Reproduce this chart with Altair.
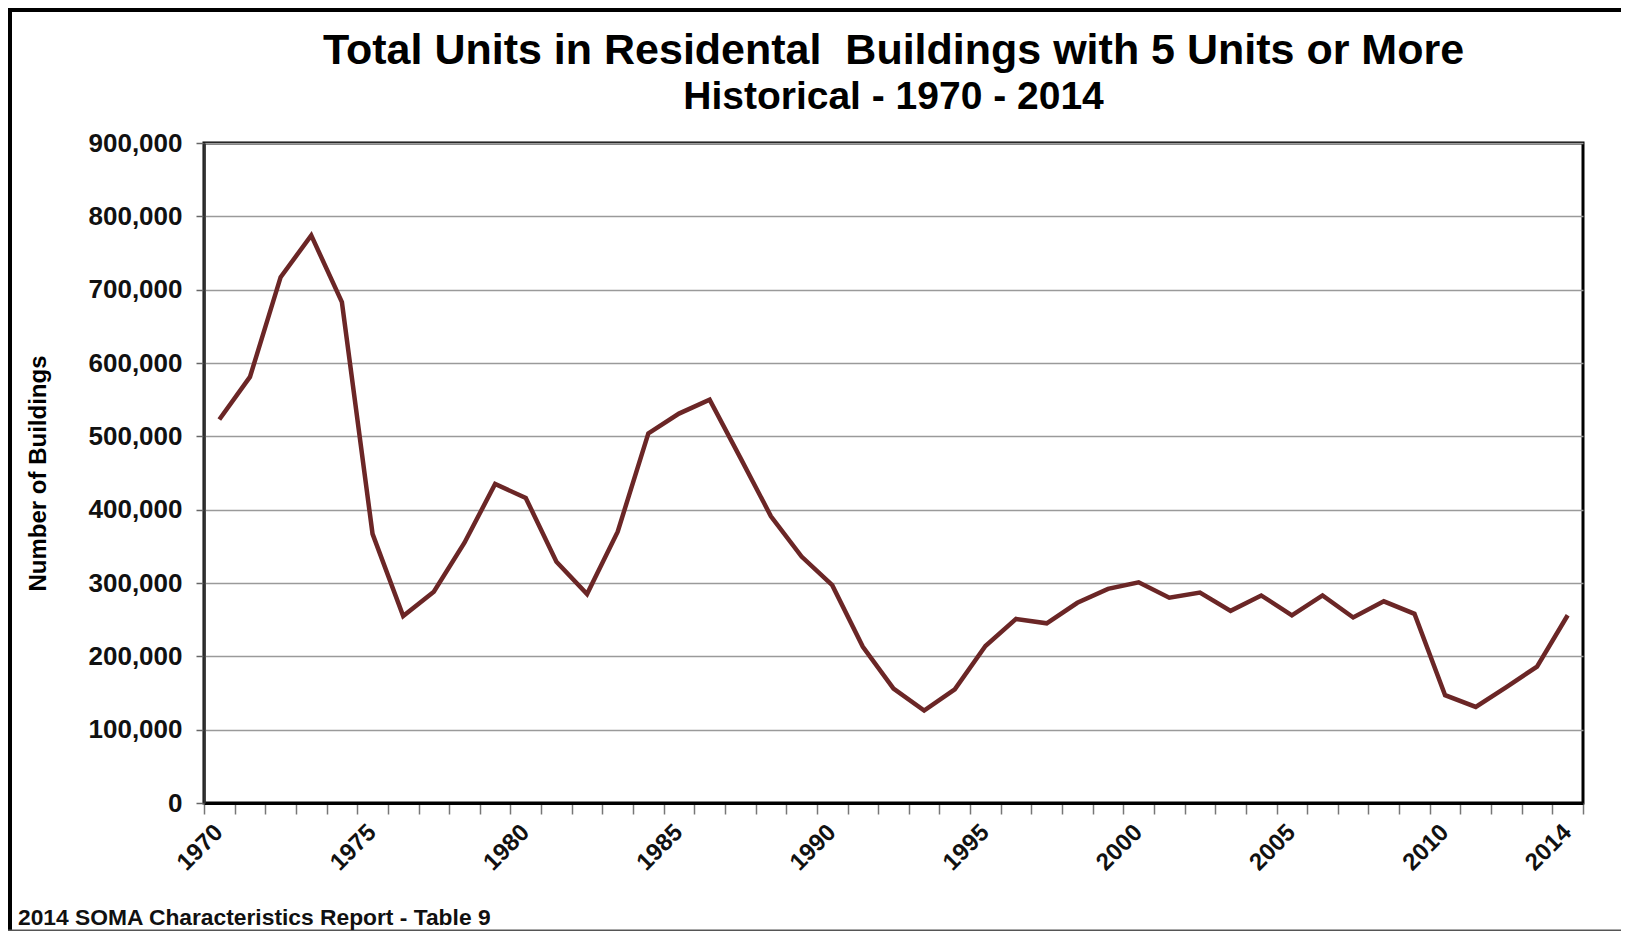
import altair as alt
import pandas as pd

YEARS = list(range(1970, 2015))
UNITS = [523000, 581000, 717000, 774000, 683000, 367000, 255000, 288000, 355000, 435000,
         416000, 329000, 285000, 370000, 504000, 531000, 550000, 471000, 391000, 336000,
         297000, 213000, 156000, 126000, 155000, 214000, 251000, 245000, 273000, 292000,
         301000, 280000, 287000, 262000, 283000, 256000, 283000, 253000, 275000, 258000,
         147000, 131000, 158000, 186000, 256000]
LABEL_YEARS = [1970, 1975, 1980, 1985, 1990, 1995, 2000, 2005, 2010, 2014]
Y_TICKS = [0, 100000, 200000, 300000, 400000, 500000, 600000, 700000, 800000, 900000]

TITLE = "Total Units in Residental\u00a0 Buildings with 5 Units or More"
SUBTITLE = "Historical - 1970 - 2014"
Y_TITLE = "Number of Buildings"
FOOTER = "2014 SOMA Characteristics Report - Table 9"

FONT = "Liberation Sans"
W, H = 1379, 660
PAD = {"left": 196, "top": 135, "right": 38, "bottom": 128}

df = pd.DataFrame({"year": YEARS, "units": UNITS})

label_expr = "indexof([" + ",".join(str(y) for y in LABEL_YEARS) + "], datum.value) >= 0 ? datum.label : ''"

line = alt.Chart(df).mark_line(color="#6b2626", strokeWidth=4.5).encode(
    x=alt.X("year:O", bandPosition=0.5,
            scale=alt.Scale(type="band", paddingInner=0, paddingOuter=0),
            axis=alt.Axis(title=None, labelAngle=-45, labelExpr=label_expr,
                          tickBand="extent", grid=False, labelFontSize=24,
                          labelFont=FONT, labelFontWeight="bold", labelColor="#111",
                          tickSize=11, tickColor="#777", tickWidth=1.5,
                          labelPadding=6, labelOffset=-9, domainColor="#000",
                          domainWidth=3, labelOverlap=False)),
    y=alt.Y("units:Q",
            scale=alt.Scale(domain=[0, 900000], nice=False),
            axis=alt.Axis(title=Y_TITLE, values=Y_TICKS, format=",d",
                          labelFontSize=26, labelFont=FONT, labelFontWeight="bold",
                          labelColor="#111", tickSize=8, tickColor="#666",
                          tickWidth=1.5, labelPadding=14, domainColor="#333",
                          domainWidth=2.5, grid=True, gridColor="#9a9a9a",
                          gridWidth=1.5, titleFont=FONT, titleFontSize=24,
                          titleFontWeight="bold", titleColor="#000",
                          titlePadding=38)),
)

one = alt.Data(values=[{}])

frame_top = alt.Chart(one).mark_rule(color="#000", strokeWidth=8).encode(
    x=alt.value(-PAD["left"]), x2=alt.value(W + 200), y=alt.value(-PAD["top"]))
frame_left = alt.Chart(one).mark_rule(color="#000", strokeWidth=8).encode(
    x=alt.value(-PAD["left"]), y=alt.value(-PAD["top"]), y2=alt.value(H + PAD["bottom"]))
frame_bottom = alt.Chart(one).mark_rule(color="#555", strokeWidth=3).encode(
    x=alt.value(-PAD["left"]), x2=alt.value(W + 200), y=alt.value(H + PAD["bottom"]))

title = alt.Chart(one).mark_text(align="center", baseline="middle", font=FONT,
                                 fontWeight="bold", fontSize=43, color="#000").encode(
    x=alt.value(W / 2), y=alt.value(-92), text=alt.value(TITLE))
subtitle = alt.Chart(one).mark_text(align="center", baseline="middle", font=FONT,
                                    fontWeight="bold", fontSize=39, color="#000").encode(
    x=alt.value(W / 2), y=alt.value(-46), text=alt.value(SUBTITLE))

footer = alt.Chart(one).mark_text(align="left", baseline="middle", font=FONT,
                                  fontWeight="bold", fontSize=22.8, color="#111").encode(
    x=alt.value(-186), y=alt.value(775), text=alt.value(FOOTER))

chart = alt.layer(line, frame_top, frame_left, frame_bottom, title, subtitle, footer).properties(
    width=W, height=H,
    autosize=alt.AutoSizeParams(type="none"),
    padding=PAD,
    background="white",
).configure_view(stroke="#000", strokeWidth=3)

chart.save("out.html", embed_options={"renderer": "svg", "actions": False})
